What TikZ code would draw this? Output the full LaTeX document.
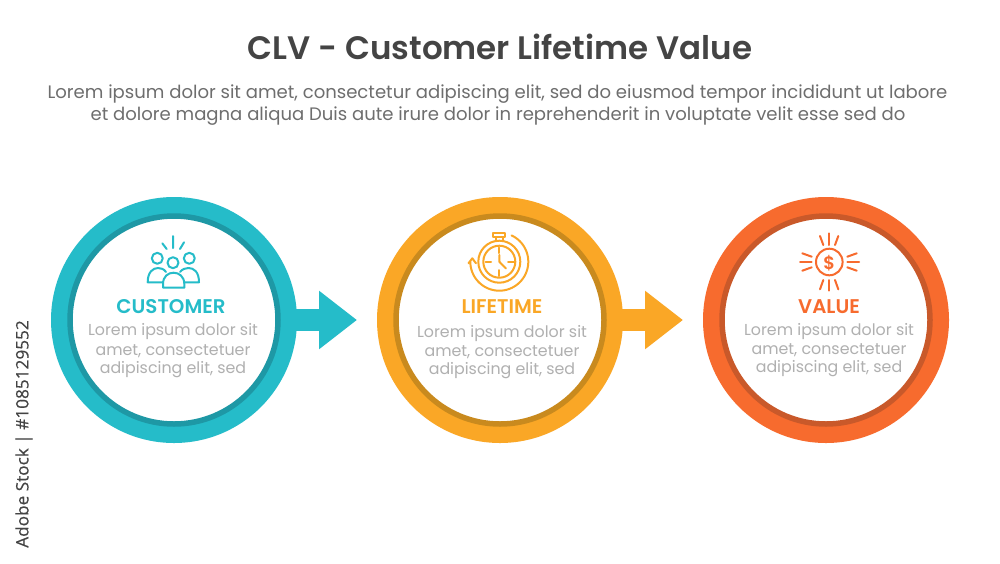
\documentclass[tikz,border=0pt]{standalone}
\usepackage{fontspec}
\setmainfont{Poppins}
\newfontfamily\semib{Poppins SemiBold}
\newfontfamily\stockf[FakeBold=0.4]{Open Sans}
\usetikzlibrary{arrows.meta}
\definecolor{teal}{HTML}{25BCC9}
\definecolor{teald}{HTML}{1E98A5}
\definecolor{amber}{HTML}{FAA726}
\definecolor{amberd}{HTML}{C98A1E}
\definecolor{coral}{HTML}{F76B2E}
\definecolor{corald}{HTML}{C9592A}
\definecolor{titleg}{HTML}{444444}
\definecolor{subg}{HTML}{6E6E6E}
\definecolor{bodyg}{HTML}{B0B0B0}
\tikzset{
  x=1pt,y=-1pt,
  outer/.style={circle,fill=#1,minimum size=246pt,inner sep=0pt},
  ring/.style={circle,fill=white,draw=#1,line width=5.5pt,minimum size=208pt,inner sep=0pt},
  conn/.style={line width=22pt,color=#1,-{Triangle[length=38pt,width=56pt]}},
  ico/.style={draw=#1,line width=2pt,line cap=round,line join=round,fill=none},
  title/.style={font=\semib\fontsize{32.5}{36}\selectfont,text=titleg},
  sub/.style={font=\fontsize{18.05}{20}\selectfont,text=subg},
  lab/.style={font=\semib\fontsize{19.8}{22}\selectfont,text=#1},
  body/.style={font=\fontsize{15.85}{18}\selectfont,text=bodyg},
}
\begin{document}
\begin{tikzpicture}
\useasboundingbox (0,0) rectangle (1000,563);
\fill[white] (0,0) rectangle (1000,563);
\node[title] (t) at (500,46.5) {CLV - Customer Lifetime Value};
\node[sub] (s1) at (497.5,94) {Lorem ipsum dolor sit amet, consectetur adipiscing elit, sed do eiusmod tempor incididunt ut labore};
\node[sub] (s2) at (498,116) {et dolore magna aliqua Duis aute irure dolor in reprehenderit in voluptate velit esse sed do};

\coordinate (tip1) at (357,320);
\coordinate (tip2) at (683,320);
\node[outer=teal] (c1) at (174,320) {};
\node[outer=amber] (c2) at (500,320) {};
\node[outer=coral] (c3) at (826,320) {};
\draw[conn=teal] (c1.center) -- (tip1);
\draw[conn=amber] (c2.center) -- (tip2);
\node[ring=teald] (r1) at (174,320) {};
\node[ring=amberd] (r2) at (500,320) {};
\node[ring=corald] (r3) at (826,320) {};

% customer icon
\begin{scope}[ico=teal]
\draw (173,236)--(173,248) (162.3,243.3)--(166.7,249) (184,242.3)--(180,249);
\draw (157.3,258.3) circle[radius=5.5pt] (173,262.7) circle[radius=5.5pt] (189.3,258.3) circle[radius=5.5pt];
\draw (163,282.3)--(147.7,282.3) .. controls (147.7,272) and (153,268) .. (158,268) .. controls (161,268) and (164,269) .. (166,272);
\draw (184,282.3)--(199,282.3) .. controls (199,272) and (194,268) .. (188.5,268) .. controls (185.5,268) and (182.5,269) .. (180,272);
\draw (163,287.7)--(184.3,287.7)--(184.3,284) .. controls (184.3,276.5) and (179,272.7) .. (173.6,272.7) .. controls (168,272.7) and (163,276.5) .. (163,284) -- cycle;
\end{scope}
\node[lab=teal] (l1) at (171,307) {CUSTOMER};
\node[body] (b1a) at (173,332) {Lorem ipsum dolor sit};
\node[body] (b1b) at (173,351) {amet, consectetuer};
\node[body] (b1c) at (173,370) {adipiscing elit, sed};

% lifetime icon
\begin{scope}[ico=amber]
\draw (499.3,261.7) circle[radius=16pt] (499.3,261.7) circle[radius=21pt];
\draw (493.3,233.3) rectangle (505.3,237.3);
\draw (496,237.3)--(496,241) (502.6,237.3)--(502.6,241);
\draw (499.3,247.5)--(499.3,253) (499.3,270)--(499.3,276) (485.5,261.7)--(491,261.7) (508,261.7)--(514,261.7);
\draw (499.3,255)--(499.3,261.7)--(506,268.5);
\draw plot[domain=65:-180,samples=50,smooth] ({499.3+29*cos(\x)},{261.7-29*sin(\x)});
\draw (468.5,263.3)--(472.3,258.3)--(476,263.3);
\end{scope}
\node[lab=amber] (l2) at (502,307) {LIFETIME};
\node[body] (b2a) at (502,334) {Lorem ipsum dolor sit};
\node[body] (b2b) at (502,352) {amet, consectetuer};
\node[body] (b2c) at (502,371) {adipiscing elit, sed};

% value icon
\begin{scope}[ico=coral]
\draw (829.3,262) circle[radius=13.3pt];
\draw (829.3,233.3)--(829.3,245) (829.3,280)--(829.3,290.7) (800,262)--(811.7,262) (847.3,262)--(859,262);
\draw (820,236)--(823.3,245) (838.3,236)--(835,245) (820,289.3)--(823.3,280) (838.3,289.3)--(835,280);
\draw (802.3,253.3)--(811.7,256.7) (802.3,270.7)--(811.7,267.3) (847.3,256.7)--(856.7,253.3) (847.3,267.3)--(856.7,270.7);
\end{scope}
\node[text=coral,font=\semib\fontsize{18}{20}\selectfont,inner sep=0pt] (d) at (829.3,263) {\$};
\node[lab=coral] (l3) at (829,307) {VALUE};
\node[body] (b3a) at (829,332) {Lorem ipsum dolor sit};
\node[body] (b3b) at (829,350) {amet, consectetuer};
\node[body] (b3c) at (829,369) {adipiscing elit, sed};

\node[rotate=90,text=titleg,font=\stockf\fontsize{17.2}{20}\selectfont] (st) at (24,434) {Adobe Stock | \#1085129552};
\end{tikzpicture}
\end{document}
